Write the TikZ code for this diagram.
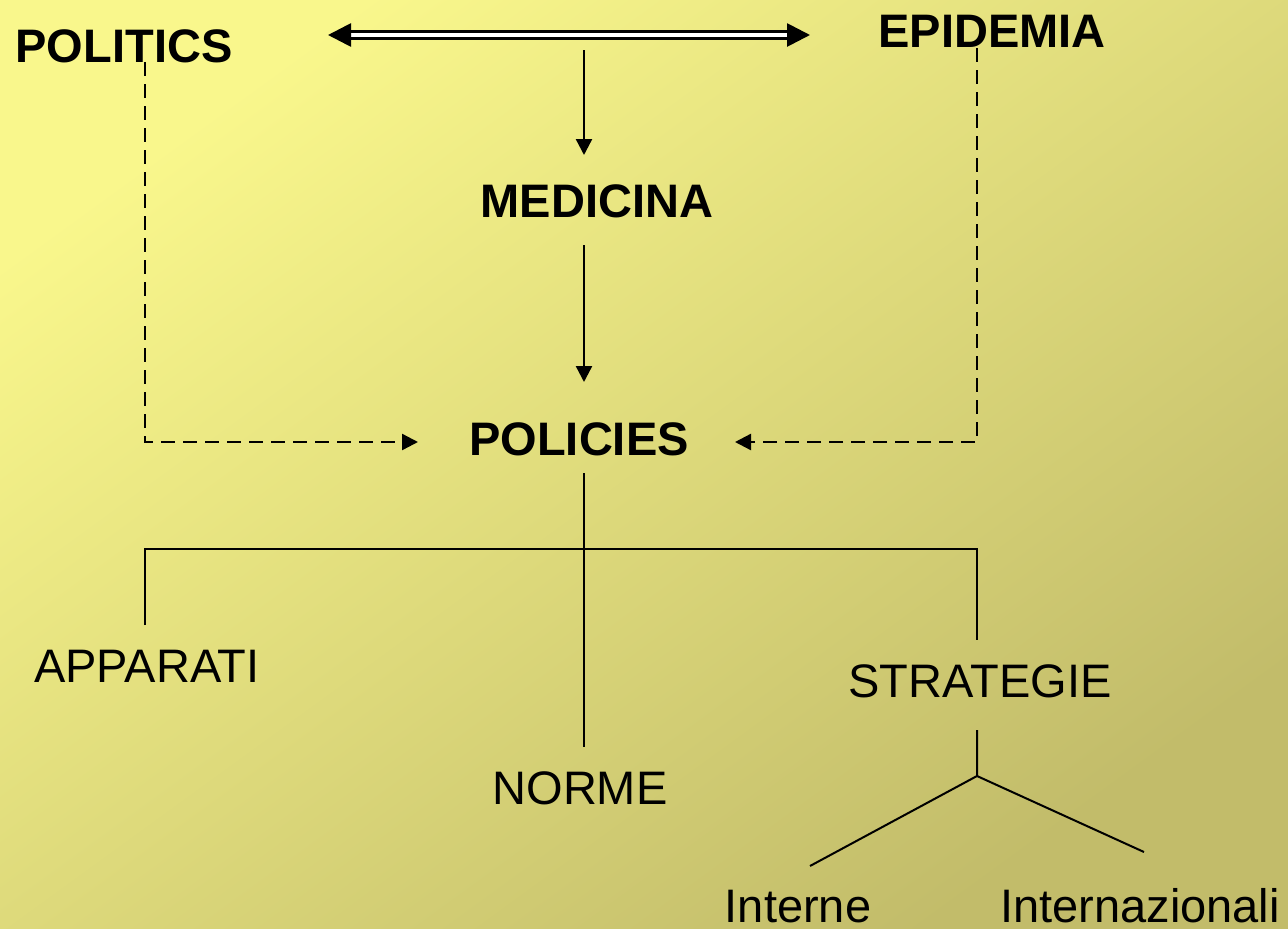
\documentclass[tikz,border=0pt]{standalone}
\usepackage{fontspec}
\setmainfont{Liberation Sans}
\usetikzlibrary{arrows.meta}
\definecolor{bgA}{RGB}{249,247,140}
\definecolor{bgB}{RGB}{194,188,106}
\begin{document}
\begin{tikzpicture}[x=1pt,y=-1pt,
  lbl/.style={inner sep=0pt, anchor=base, font=\fontsize{47}{56}\selectfont},
  blbl/.style={inner sep=0pt, anchor=base, font=\fontsize{47}{56}\selectfont\bfseries},
  arr/.style={line width=2.4pt, -{Triangle[length=16pt,width=16pt]}},
  darr/.style={line width=2.4pt, dash pattern=on 14pt off 8pt, -{Triangle[length=16pt,width=16pt]}},
  dbl/.style={double, double distance=3.5pt, line width=2.8pt, {Triangle[length=23pt,width=23pt]}-{Triangle[length=23pt,width=23pt]}},
  tree/.style={line width=2pt},
]
\useasboundingbox (0,0) rectangle (1288,929);
\shade[top color=bgA, bottom color=bgB, shading angle=36] (0,0) rectangle (1288,929);

% nodes
\node[blbl] (pol) at (124,62) {POLITICS};
\node[blbl] (epi) at (992,47) {EPIDEMIA};
\node[blbl] (med) at (597,217) {MEDICINA};
\node[blbl] (plc) at (579,455) {POLICIES};
\node[lbl] (app) at (147,682) {APPARATI};
\node[lbl] (nor) at (580,804) {NORME};
\node[lbl] (str) at (980,697) {STRATEGIE};
\node[lbl] (int) at (798,922) {Interne};
\node[lbl] (inz) at (1140,922) {Internazionali};

% coordinates
\coordinate (dL) at (328,35);
\coordinate (dR) at (810,35);
\coordinate (m1) at (584,50);
\coordinate (m2) at (584,155);
\coordinate (m3) at (584,245);
\coordinate (m4) at (584,382);
\coordinate (pd) at (145,62);
\coordinate (pe) at (418,442);
\coordinate (ed) at (977,48);
\coordinate (ee) at (735,442);
\coordinate (t0) at (584,473);
\coordinate (t1) at (584,747);
\coordinate (ta) at (145,625);
\coordinate (tb) at (977,640);
\coordinate (tj) at (584,549);
\coordinate (s0) at (977,730);
\coordinate (s1) at (977,776);
\coordinate (s2) at (810,866);
\coordinate (s3) at (1144,852);

% connectors
\draw[dbl] (dL) -- (dR);
\draw[arr] (m1) -- (m2);
\draw[arr] (m3) -- (m4);
\draw[darr] (pd) |- (pe);
\draw[darr] (ed) |- (ee);
\draw[tree] (t0) -- (t1);
\draw[tree] (ta) |- (tj) -| (tb);
\draw[tree] (s0) -- (s1) -- (s2);
\draw[tree] (s1) -- (s3);
\end{tikzpicture}
\end{document}
